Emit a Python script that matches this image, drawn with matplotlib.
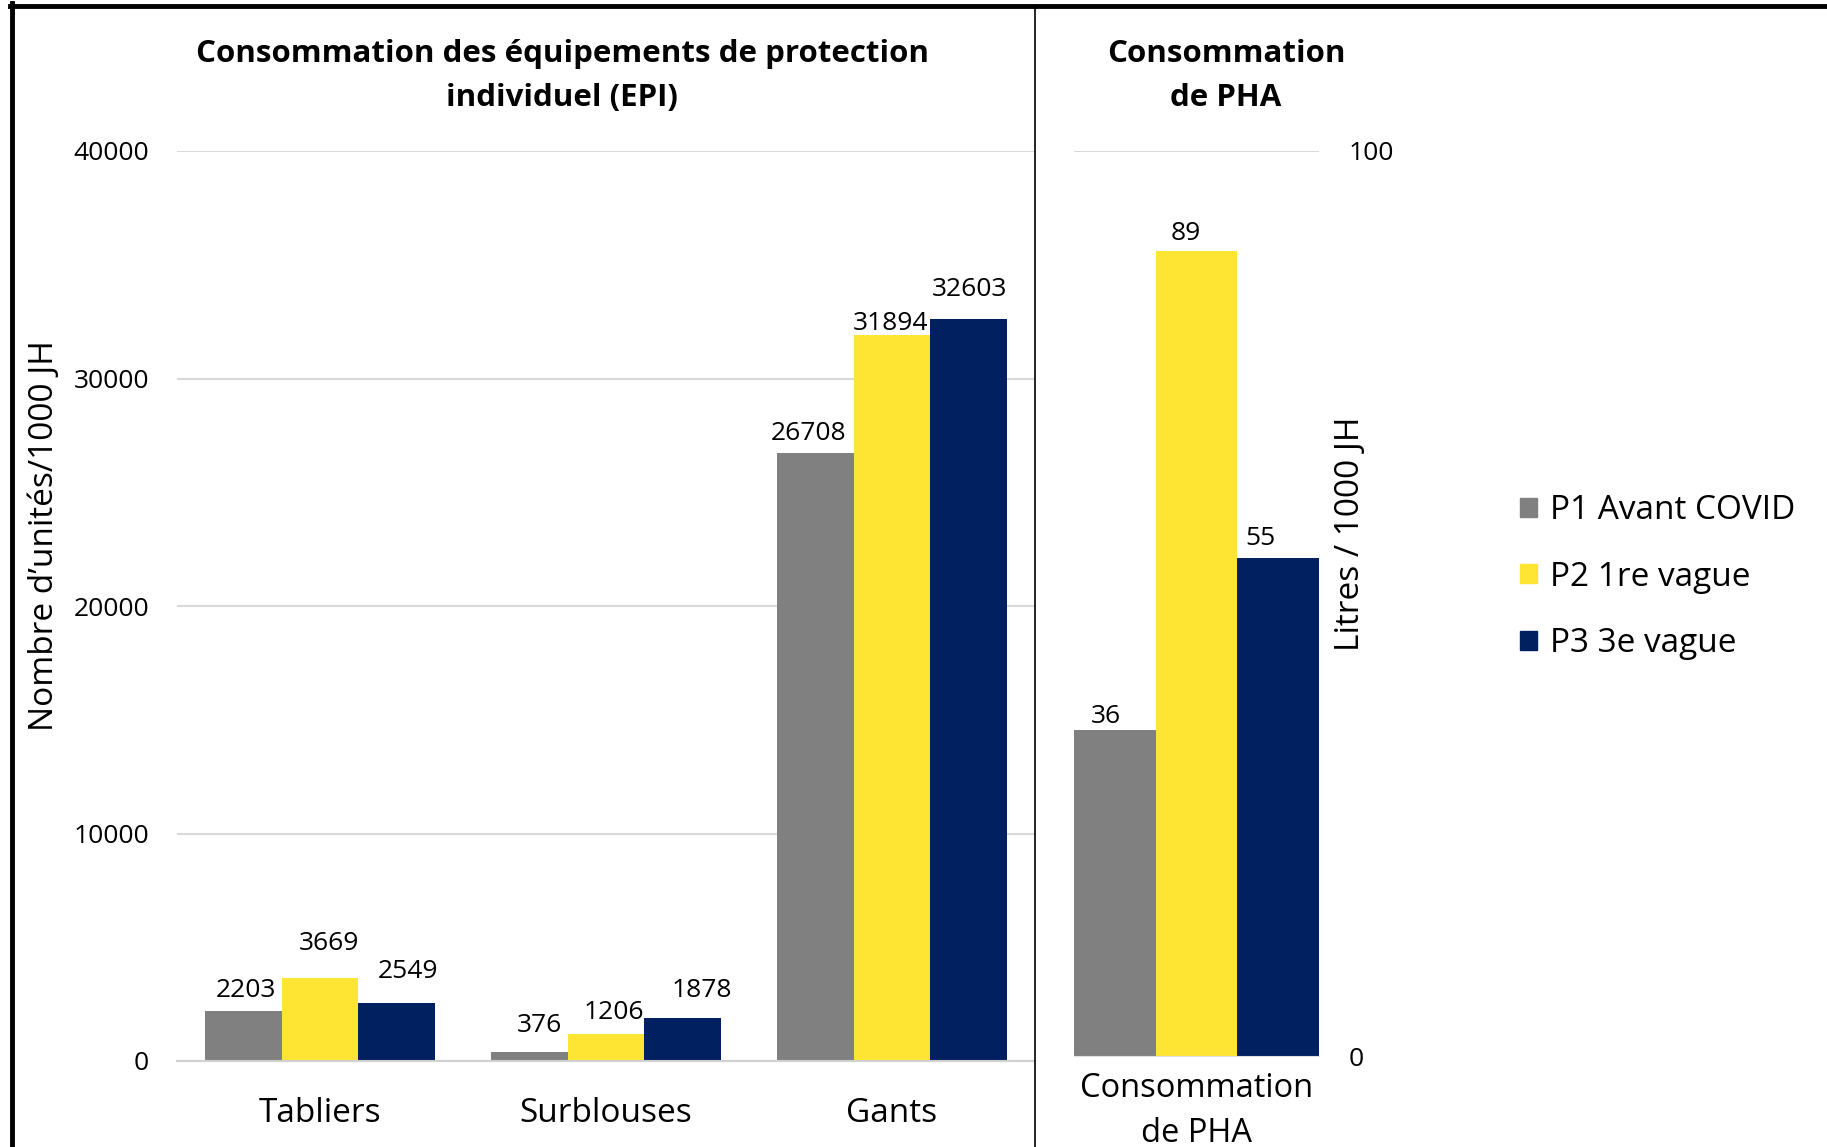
import matplotlib.pyplot as plt
from matplotlib.lines import Line2D
from matplotlib.patches import Patch
import numpy as np

plt.rcParams['font.family'] = ['Open Sans', 'DejaVu Sans']

# EPI data (units / 1000 JH)
epi_categories = ['Tabliers', 'Surblouses', 'Gants']
epi_p1 = [2203, 376, 26708]
epi_p2 = [3669, 1206, 31894]
epi_p3 = [2549, 1878, 32603]

# PHA data (litres / 1000 JH)
pha_category = ['Consommation\nde PHA']
pha_values = [36, 89, 55]

series_names = ['P1 Avant COVID', 'P2 1re vague', 'P3 3e vague']
colors = ['#808080', '#FFE533', '#002060']

# data label nudges (px, as laid out in the original chart)
epi_label_dx = [[2, 8, -6], [8, 7, -1], [10, 17, 1]]
epi_label_dy = [[22, 27, 21], [33, 22, 14], [31, 28, 30]]
pha_label_dx = [-8, -9, -15]
pha_label_dy = [16, 19, 21]

W, H = 1827, 1147
PX2PT = 1.165 * 0.72
fig = plt.figure(figsize=(W / 100, H / 100), dpi=100)


def box(x0, x1, ytop, ybot):
    return [x0 / W, 1 - ybot / H, (x1 - x0) / W, (ybot - ytop) / H]


def label(axis, bar, text, dx, dy):
    axis.annotate(text, (bar.get_x() + bar.get_width() / 2, bar.get_height()),
                  xytext=(dx * PX2PT, dy * PX2PT - 3.5), textcoords='offset points',
                  ha='center', va='center', fontsize=19)


# left panel: EPI
ax = fig.add_axes(box(177, 1035, 151, 1061))
x = np.arange(len(epi_categories))
bw = 0.267
for i, (vals, c) in enumerate(zip([epi_p1, epi_p2, epi_p3], colors)):
    bars = ax.bar(x + (i - 1) * bw, vals, bw, color=c, zorder=2)
    for j, b in enumerate(bars):
        label(ax, b, str(vals[j]), epi_label_dx[i][j], epi_label_dy[i][j])
ax.set_xlim(-0.5, 2.5)
ax.set_ylim(0, 40000)
ax.set_yticks([0, 10000, 20000, 30000, 40000])
ax.set_xticks(x)
ax.set_xticklabels(epi_categories, fontsize=24)
ax.tick_params(axis='y', length=0, pad=20, labelsize=19)
ax.tick_params(axis='x', length=0, pad=26)
ax.grid(axis='y', color='#d9d9d9', linewidth=1.5, zorder=0)
for s in ['top', 'right', 'left']:
    ax.spines[s].set_visible(False)
ax.spines['bottom'].set_color('#d0d0d0')
ax.spines['bottom'].set_linewidth(1.5)
ax.set_ylabel('Nombre d’unités/1000 JH', fontsize=24)
ax.yaxis.set_label_coords(-0.135, 0.577)

# right panel: PHA
ax2 = fig.add_axes(box(1074, 1319, 151, 1056))
bw2 = 1 / 3
for i, (v, c) in enumerate(zip(pha_values, colors)):
    bars = ax2.bar([(i - 1) * bw2], [v], bw2, color=c, zorder=2)
    label(ax2, bars[0], str(v), pha_label_dx[i], pha_label_dy[i])
ax2.set_xlim(-0.5, 0.5)
ax2.set_ylim(0, 100)
ax2.set_yticks([0, 100])
ax2.yaxis.tick_right()
ax2.yaxis.set_label_position('right')
ax2.set_xticks([0])
ax2.set_xticklabels(pha_category, fontsize=23.5, linespacing=1.5)
ax2.tick_params(axis='y', length=0, pad=21, labelsize=19)
ax2.tick_params(axis='x', length=0, pad=11.5)
ax2.grid(axis='y', color='#d9d9d9', linewidth=1.5, zorder=0)
for s in ['top', 'right', 'left']:
    ax2.spines[s].set_visible(False)
ax2.spines['bottom'].set_color('#e0e0e0')
ax2.set_ylabel('Litres / 1000 JH', fontsize=24)
ax2.yaxis.set_label_coords(1.06, 0.577)

# panel titles
fig.text(562 / W, 1 - 76 / H, 'Consommation des équipements de protection\nindividuel (EPI)',
         ha='center', va='center', fontsize=22.5, fontweight='bold', linespacing=1.62)
fig.text(1226 / W, 1 - 76 / H, 'Consommation\nde PHA',
         ha='center', va='center', fontsize=22.5, fontweight='bold', linespacing=1.62)

# legend
handles = [Patch(color=c) for c in colors]
fig.legend(handles, series_names, loc='center left',
           bbox_to_anchor=(1520 / W, 1 - 577 / H), frameon=False,
           fontsize=24, handlelength=0.5, handleheight=0.5,
           labelspacing=1.0, handletextpad=0.4, borderpad=0, borderaxespad=0)

# frame and divider
fig.add_artist(Line2D([11.5 / W, 11.5 / W], [0, 1 - 3 / H], color='black', lw=3.5))
fig.add_artist(Line2D([10 / W, 1], [1 - 5.5 / H, 1 - 5.5 / H], color='black', lw=3.5))
fig.add_artist(Line2D([1035 / W, 1035 / W], [0, 1 - 5 / H], color='black', lw=1.2))

fig.savefig('out.png', dpi=100)
